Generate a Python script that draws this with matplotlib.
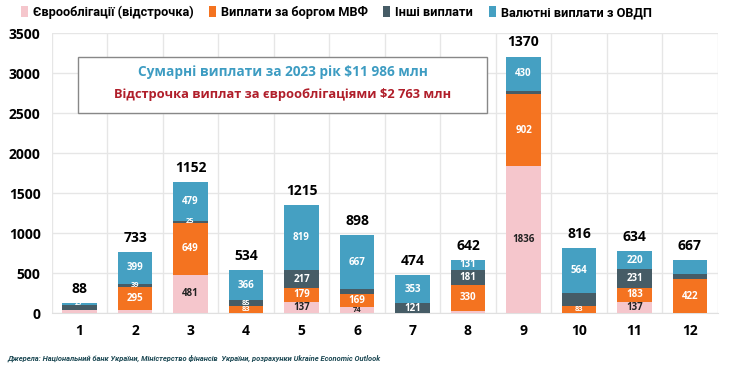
import matplotlib
matplotlib.use("Agg")
import matplotlib.pyplot as plt
from matplotlib.patches import Patch, Rectangle
import numpy as np

plt.rcParams['font.family'] = ['Open Sans', 'DejaVu Sans']
NARROW = ['Liberation Sans Narrow', 'Roboto', 'DejaVu Sans']

months = ['1', '2', '3', '4', '5', '6', '7', '8', '9', '10', '11', '12']
eurobonds = [40, 33, 481, 0, 137, 74, 0, 25, 1836, 0, 137, 0]
imf = [0, 295, 649, 83, 179, 169, 0, 330, 902, 83, 183, 422]
other = [61, 39, 25, 85, 217, 62, 121, 181, 38, 169, 231, 62]
ovdp = [27, 399, 479, 366, 819, 667, 353, 131, 430, 564, 220, 183]
totals = [88, 733, 1152, 534, 1215, 898, 474, 642, 1370, 816, 634, 667]

euro_lbl = [None, None, '481', None, '137', '74', None, None, '1836', None, '137', None]
imf_lbl = [None, '295', '649', '83', '179', '169', None, '330', '902', '83', '183', '422']
other_lbl = [None, '39', '25', '85', '217', None, '121', '181', None, None, '231', None]
ovdp_lbl = ['27', '399', '479', '366', '819', '667', '353', '131', '430', '564', '220', None]

series_names = ['Єврооблігації (відстрочка)', 'Виплати за боргом МВФ', 'Інші виплати', 'Валютні виплати з ОВДП']
colors = ['#f5c6cc', '#f47320', '#465c66', '#45a0c2']
text_colors = ['#222222', 'white', 'white', 'white']

fig = plt.figure(figsize=(7.5, 3.8), dpi=100)
ax = fig.add_axes([0.069, 0.176, 0.888, 0.737])

x = np.arange(1, len(months) + 1)
width = 0.63
bottom = np.zeros(len(months))
for vals, lbls, col, tcol in zip([eurobonds, imf, other, ovdp],
                                 [euro_lbl, imf_lbl, other_lbl, ovdp_lbl],
                                 colors, text_colors):
    v = np.array(vals, dtype=float)
    ax.bar(x, v, width, bottom=bottom, color=col, zorder=3)
    for xi, b, h, lb in zip(x, bottom, v, lbls):
        if lb is not None:
            fs = 7 if h >= 90 else 5.4
            ax.text(xi, b + h / 2, lb, ha='center', va='center', color=tcol,
                    fontsize=fs, fontweight='bold', zorder=4)
    bottom += v

for xi, top, t in zip(x, bottom, totals):
    ax.text(xi, top + 90, str(t), ha='center', va='bottom', fontsize=10,
            fontweight='bold', color='black', zorder=4)

ax.set_xlim(0.5, 12.5)
ax.set_ylim(0, 3500)
ax.set_yticks(np.arange(0, 3501, 500))
ax.set_xticks(x)
ax.set_xticklabels(months)
ax.tick_params(axis='both', length=0, labelsize=10)
for lab in ax.get_xticklabels() + ax.get_yticklabels():
    lab.set_fontweight('bold')
ax.tick_params(axis='x', pad=8)
ax.tick_params(axis='y', pad=8)
ax.yaxis.grid(True, color='#e6e6e6', linewidth=1, zorder=0)
for b in np.arange(0.5, 13, 1.0):
    ax.axvline(b, color='#e6e6e6', linewidth=1, zorder=0)
for s in ['top', 'right', 'left']:
    ax.spines[s].set_visible(False)
ax.spines['bottom'].set_color('#e0e0e0')

# annotation box
ax.add_patch(Rectangle((0.97, 2500), 7.38, 700, transform=ax.transData,
                       facecolor='white', edgecolor='#888888', linewidth=1, zorder=5))
ax.text(4.66, 3010, 'Сумарні виплати за 2023 рік $11 986 млн', ha='center', va='center',
        color='#3d9cc2', fontsize=9.8, fontweight='bold', zorder=6)
ax.text(4.66, 2735, 'Відстрочка виплат за єврооблігаціями $2 763 млн', ha='center', va='center',
        color='#b01e2a', fontsize=9.3, fontweight='bold', zorder=6)

handles = [Patch(facecolor=c, edgecolor='none') for c in colors]
leg = fig.legend(handles, series_names, loc='upper left', bbox_to_anchor=(0.012, 1.015),
                 ncol=4, frameon=False, handlelength=0.55, handleheight=0.9,
                 handletextpad=0.4, columnspacing=1.2,
                 prop={'family': NARROW, 'size': 9.2, 'weight': 'bold'})

fig.text(0.01, 0.058, 'Джерела: Національний банк України, Міністерство фінансів  України, розрахунки Ukraine Economic Outlook',
         fontsize=5.4, style='italic', fontweight='bold', color='#1e4a55', ha='left', va='center',
         family=NARROW)

fig.savefig('out.png', dpi=100)
